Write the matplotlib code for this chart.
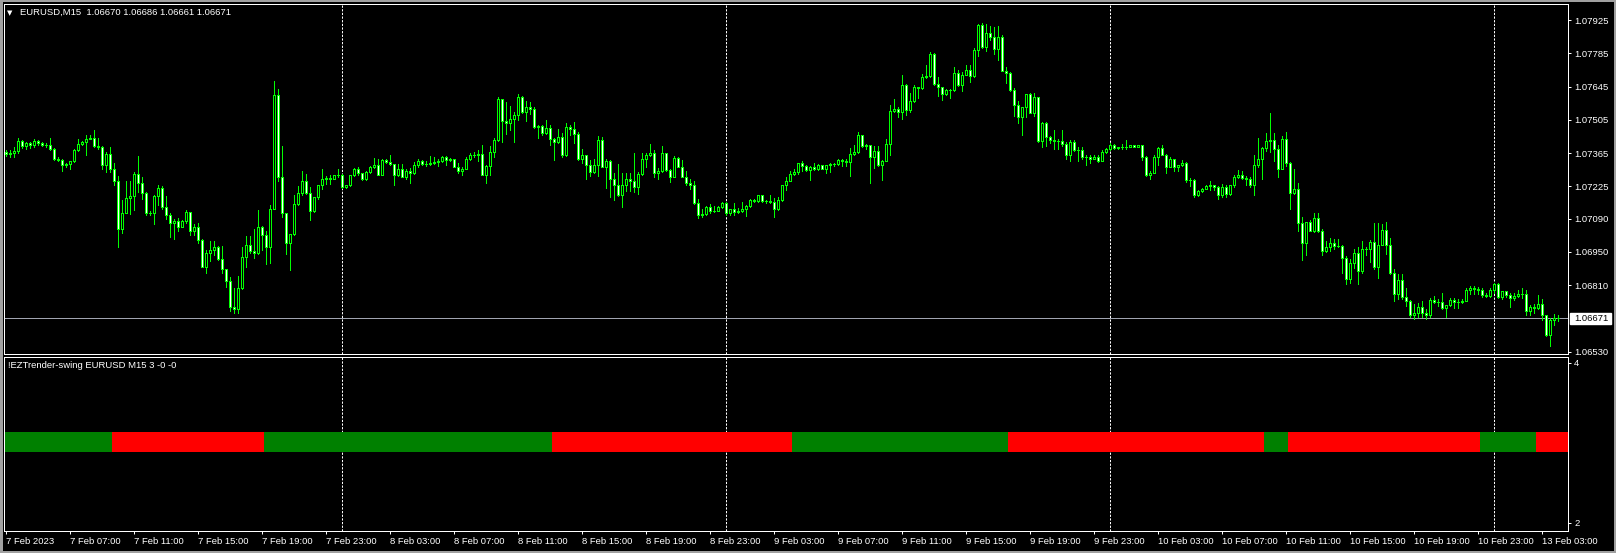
import matplotlib
matplotlib.use('Agg')
import matplotlib.pyplot as plt
from matplotlib.patches import Rectangle
from matplotlib.transforms import blended_transform_factory
import numpy as np
import pandas as pd

# EURUSD M15 prices, in points (1e-5) above 1.06000
first_open_pts = 1370
close_pts = [
    1362, 1366, 1372, 1415, 1395, 1406, 1398, 1415, 1406, 1401,
    1398, 1384, 1339, 1336, 1314, 1320, 1330, 1378, 1404, 1410,
    1424, 1429, 1395, 1390, 1314, 1362, 1300, 1247, 1048, 1112,
    1177, 1185, 1278, 1241, 1199, 1112, 1115, 1185, 1219, 1137,
    1106, 1073, 1081, 1056, 1078, 1118, 1039, 1056, 1000, 888,
    947, 958, 969, 919, 879, 826, 720, 711, 798, 927,
    978, 955, 944, 1053, 1020, 972, 1129, 1608, 1264, 1112,
    989, 1025, 1151, 1196, 1247, 1196, 1121, 1179, 1230, 1255,
    1261, 1258, 1272, 1275, 1221, 1230, 1272, 1297, 1280, 1255,
    1286, 1306, 1314, 1275, 1336, 1328, 1320, 1272, 1297, 1266,
    1292, 1283, 1314, 1331, 1320, 1320, 1322, 1328, 1331, 1348,
    1336, 1339, 1308, 1289, 1300, 1339, 1356, 1359, 1362, 1275,
    1311, 1370, 1421, 1592, 1499, 1491, 1510, 1524, 1600, 1538,
    1561, 1552, 1477, 1479, 1451, 1471, 1423, 1412, 1432, 1356,
    1477, 1465, 1446, 1339, 1356, 1314, 1286, 1317, 1421, 1308,
    1331, 1255, 1233, 1191, 1233, 1255, 1249, 1224, 1278, 1339,
    1356, 1364, 1280, 1289, 1364, 1294, 1266, 1345, 1308, 1266,
    1241, 1233, 1157, 1104, 1107, 1140, 1121, 1123, 1137, 1154,
    1112, 1129, 1118, 1121, 1129, 1143, 1168, 1163, 1188, 1163,
    1165, 1160, 1129, 1168, 1230, 1249, 1278, 1286, 1322, 1311,
    1294, 1305, 1297, 1314, 1300, 1314, 1319, 1319, 1336, 1330,
    1328, 1361, 1370, 1440, 1395, 1401, 1350, 1373, 1314, 1333,
    1403, 1541, 1552, 1538, 1650, 1546, 1583, 1642, 1639, 1684,
    1689, 1782, 1656, 1642, 1614, 1631, 1631, 1701, 1650, 1695,
    1715, 1689, 1799, 1903, 1810, 1872, 1852, 1804, 1855, 1712,
    1703, 1631, 1569, 1516, 1558, 1614, 1535, 1600, 1417, 1493,
    1431, 1420, 1417, 1415, 1403, 1359, 1412, 1378, 1378, 1347,
    1347, 1342, 1350, 1333, 1370, 1381, 1401, 1387, 1389, 1392,
    1392, 1398, 1392, 1398, 1350, 1274, 1283, 1350, 1387, 1359,
    1308, 1339, 1305, 1314, 1323, 1252, 1250, 1188, 1205, 1216,
    1227, 1230, 1224, 1188, 1222, 1194, 1230, 1264, 1275, 1261,
    1258, 1230, 1314, 1339, 1387, 1415, 1421, 1384, 1300, 1424,
    1323, 1199, 1213, 1070, 986, 1076, 1039, 1093, 1037, 952,
    969, 986, 975, 975, 924, 835, 902, 947, 871, 961,
    964, 992, 885, 980, 1042, 978, 860, 773, 832, 759,
    742, 686, 692, 717, 692, 683, 748, 739, 737, 714,
    725, 748, 739, 739, 745, 790, 798, 793, 790, 770,
    765, 790, 815, 759, 784, 770, 756, 765, 773, 773,
    700, 720, 714, 731, 683, 599, 664, 670, 671,
]
# wick length above / below the body, points
up_wick = [
    8, 11, 20, 14, 6, 4, 8, 8, 6, 6,
    6, 31, 4, 8, 4, 4, 4, 6, 20, 6,
    17, 11, 34, 34, 3, 8, 28, 25, 20, 56,
    70, 62, 8, 76, 22, 4, 8, 6, 11, 6,
    48, 6, 6, 11, 6, 8, 0, 11, 14, 3,
    11, 39, 25, 6, 56, 0, 17, 76, 50, 42,
    39, 39, 90, 73, 6, 17, 20, 59, 25, 132,
    3, 0, 39, 31, 42, 31, 28, 3, 3, 45,
    6, 11, 0, 25, 3, 3, 3, 6, 8, 3,
    3, 6, 31, 28, 3, 3, 31, 0, 22, 22,
    6, 11, 14, 8, 6, 14, 31, 22, 11, 6,
    3, 6, 3, 17, 8, 11, 11, 11, 17, 36,
    6, 25, 6, 8, 0, 81, 53, 14, 14, 6,
    22, 20, 8, 3, 3, 34, 11, 6, 36, 17,
    14, 8, 31, 6, 25, 3, 22, 22, 17, 11,
    11, 6, 25, 87, 48, 28, 28, 115, 8, 25,
    11, 39, 14, 14, 31, 3, 6, 6, 3, 28,
    25, 17, 14, 14, 25, 3, 11, 20, 6, 6,
    6, 3, 25, 14, 31, 6, 3, 3, 3, 3,
    3, 22, 17, 11, 3, 14, 11, 14, 3, 11,
    6, 8, 20, 6, 3, 3, 3, 6, 6, 3,
    11, 25, 31, 14, 0, 3, 0, 22, 22, 3,
    20, 25, 39, 8, 42, 6, 34, 8, 3, 14,
    48, 8, 3, 31, 3, 3, 3, 28, 14, 11,
    22, 20, 8, 6, 11, 36, 28, 45, 45, 8,
    14, 3, 8, 17, 3, 0, 6, 17, 3, 3,
    3, 6, 42, 6, 48, 11, 8, 8, 11, 11,
    11, 11, 8, 8, 8, 6, 8, 3, 3, 11,
    28, 3, 3, 3, 3, 3, 8, 6, 3, 11,
    3, 11, 3, 3, 14, 3, 8, 8, 3, 3,
    3, 17, 3, 3, 14, 11, 3, 8, 20, 17,
    8, 8, 42, 90, 3, 34, 112, 28, 14, 14,
    31, 3, 84, 25, 25, 0, 6, 20, 20, 8,
    25, 22, 17, 31, 3, 8, 17, 14, 25, 34,
    6, 8, 78, 90, 25, 34, 31, 17, 25, 25,
    39, 6, 39, 17, 28, 17, 8, 17, 14, 39,
    3, 8, 6, 14, 6, 8, 8, 8, 8, 6,
    6, 6, 3, 3, 3, 3, 8, 11, 17, 25,
    17, 6, 11, 36, 20, 3, 6, 20, 15,
]
dn_wick = [
    8, 14, 17, 6, 8, 14, 11, 6, 8, 6,
    6, 6, 4, 6, 25, 8, 22, 4, 4, 6,
    53, 0, 3, 6, 14, 28, 14, 14, 76, 17,
    0, 67, 59, 39, 25, 6, 6, 48, 36, 6,
    20, 59, 70, 17, 3, 8, 20, 20, 11, 3,
    28, 36, 20, 3, 20, 25, 17, 17, 17, 3,
    42, 8, 22, 3, 64, 73, 70, 0, 17, 14,
    50, 115, 3, 3, 8, 3, 36, 3, 6, 14,
    20, 22, 3, 6, 3, 3, 3, 3, 6, 3,
    3, 6, 3, 3, 3, 3, 6, 39, 3, 3,
    8, 45, 6, 6, 3, 11, 3, 3, 17, 3,
    22, 6, 3, 6, 14, 3, 3, 6, 25, 3,
    34, 36, 22, 6, 87, 45, 28, 98, 20, 6,
    36, 22, 8, 48, 11, 6, 22, 76, 6, 6,
    3, 25, 39, 3, 17, 56, 17, 3, 50, 3,
    90, 73, 64, 8, 53, 28, 42, 22, 31, 3,
    34, 3, 14, 22, 3, 6, 22, 3, 3, 3,
    11, 20, 6, 11, 6, 3, 8, 3, 3, 3,
    8, 6, 14, 6, 3, 28, 3, 3, 3, 3,
    6, 6, 31, 3, 6, 22, 3, 3, 8, 20,
    3, 42, 3, 3, 3, 20, 28, 6, 3, 20,
    17, 59, 3, 3, 3, 14, 109, 48, 3, 62,
    3, 45, 3, 20, 28, 22, 8, 3, 42, 3,
    3, 3, 6, 36, 25, 3, 34, 3, 3, 22,
    3, 25, 3, 25, 3, 17, 11, 22, 48, 3,
    45, 3, 48, 25, 73, 42, 3, 14, 3, 25,
    36, 14, 34, 31, 8, 20, 28, 6, 48, 6,
    31, 20, 3, 6, 3, 3, 3, 3, 3, 8,
    8, 3, 3, 3, 14, 6, 17, 3, 34, 3,
    25, 3, 17, 17, 3, 8, 22, 8, 3, 3,
    3, 17, 14, 14, 6, 14, 3, 6, 3, 3,
    28, 6, 42, 8, 81, 14, 45, 53, 34, 3,
    14, 67, 6, 31, 70, 48, 3, 6, 3, 14,
    3, 14, 14, 3, 64, 22, 14, 20, 56, 8,
    25, 56, 6, 45, 3, 36, 3, 28, 20, 6,
    20, 8, 20, 14, 14, 17, 6, 3, 14, 3,
    36, 3, 25, 25, 6, 3, 17, 20, 17, 11,
    6, 6, 14, 3, 6, 11, 39, 8, 3, 17,
    17, 17, 20, 3, 20, 3, 45, 20, 9,
]

# trend indicator: bar index where each run starts, 1 = green, 0 = red
trend_start = [0, 27, 65, 137, 197, 251, 315, 321, 369, 383]
trend_state = [1, 0, 1, 0, 1, 0, 1, 0, 1, 0]

price_ticks = [1.07925, 1.07785, 1.07645, 1.07505, 1.07365,
               1.07225, 1.07090, 1.06950, 1.06810, 1.06530]
ind_ticks = [2, 4]

W, H = 1616, 553
LIME = '#00ff00'
FONT = 6.8


def fx(px):
    return px / W


def fy(py):
    return 1 - py / H


def main():
    plt.rcParams['font.family'] = ['Liberation Sans', 'DejaVu Sans']

    n = len(close_pts)
    close = 1.06 + np.array(close_pts) / 1e5
    opens = np.concatenate([[1.06 + first_open_pts / 1e5], close[:-1]])
    high = np.maximum(opens, close) + np.array(up_wick) / 1e5
    low = np.minimum(opens, close) - np.array(dn_wick) / 1e5
    x = np.arange(n)

    times = list(pd.date_range('2023-02-07 03:00', '2023-02-10 23:45', freq='15min')) + \
        list(pd.date_range('2023-02-13 00:00', periods=n - 372, freq='15min'))
    day_breaks = [i for i in range(1, n) if times[i].date() != times[i - 1].date()]

    fig = plt.figure(figsize=(W / 100, H / 100), dpi=100, facecolor='black')
    ax = fig.add_axes([fx(4), fy(354), fx(1568) - fx(4), fy(4) - fy(354)])
    ax2 = fig.add_axes([fx(4), fy(531), fx(1568) - fx(4), fy(357) - fy(531)])

    xlim = ((4 - 5.5) / 4, (1568 - 5.5) / 4)
    for a in (ax, ax2):
        a.set_facecolor('black')
        a.set_xlim(*xlim)
        for s in a.spines.values():
            s.set_color('white')
            s.set_linewidth(0.72)
        for b in day_breaks:
            a.axvline(b, color='white', lw=0.72, ls=(0, (2.2, 1.45)), zorder=1)

    # candles
    ax.axhline(close[-1], color='#a0a4b0', lw=0.72, zorder=2)
    ax.vlines(x, low, high, color=LIME, lw=0.72, zorder=3, antialiased=False)
    fills = ['black' if c >= o else 'white' for o, c in zip(opens, close)]
    ax.bar(x, close - opens, bottom=opens, width=0.5, color=fills,
           edgecolor=LIME, linewidth=0.72, zorder=4, antialiased=False)
    ax.set_ylim(1.065203, 1.079923)
    ax.set_xticks([])
    ax.yaxis.tick_right()
    ax.set_yticks(price_ticks)
    ax.set_yticklabels([f'{v:.5f}' for v in price_ticks])
    ax.tick_params(axis='y', colors='white', labelsize=FONT, length=2.2,
                   width=0.72, pad=2.2)

    # last price marker
    tr = blended_transform_factory(fig.transFigure, ax.transData)
    ax.add_patch(Rectangle((fx(1570), close[-1] - 0.000232), fx(1611) - fx(1570),
                           0.000464, transform=tr, facecolor='white',
                           edgecolor='white', clip_on=False, zorder=5))
    ax.text(fx(1574), close[-1], f'{close[-1]:.5f}', transform=tr, color='black',
            fontsize=FONT, va='center', ha='left', zorder=6)

    # trend indicator
    ends = trend_start[1:] + [xlim[1] + 0.5]
    for s, e, st in zip(trend_start, ends, trend_state):
        ax2.broken_barh([(s - 0.5, e - s)], (2.8875, 0.25),
                        facecolors='#008000' if st else '#ff0000', zorder=2)
    ax2.set_ylim(1.9, 4.075)
    ax2.yaxis.tick_right()
    ax2.set_yticks(ind_ticks)
    ax2.set_yticklabels([str(v) for v in ind_ticks])
    ax2.tick_params(axis='y', colors='white', labelsize=FONT, length=2.2,
                    width=0.72, pad=2.2)

    tick_idx = list(range(0, n, 16))
    labels = []
    for i in tick_idx:
        t = times[i]
        if i == 0:
            labels.append(f'{t.day} {t:%b %Y}')
        else:
            labels.append(f'{t.day} {t:%b %H:%M}')
    ax2.set_xticks(tick_idx)
    ax2.set_xticklabels(labels)
    ax2.tick_params(axis='x', colors='white', labelsize=FONT, length=2.2,
                    width=0.72, pad=2.2)
    for lbl in ax2.get_xticklabels():
        lbl.set_horizontalalignment('left')

    # captions
    o, h, l, c = opens[-1], high[-1], low[-1], close[-1]
    fig.text(fx(7), fy(12.7), '\u25bc', color='white', fontsize=5,
             family='DejaVu Sans', va='center', ha='left')
    fig.text(fx(20), fy(12.7), f'EURUSD,M15  {o:.5f} {h:.5f} {l:.5f} {c:.5f}',
             color='white', fontsize=FONT, va='center', ha='left')
    fig.text(fx(8), fy(366), '!EZTrender-swing EURUSD M15 3 -0 -0',
             color='white', fontsize=FONT, va='center', ha='left')

    # window frame
    for (x0, y0, w, h_) in [(0, 0, 2.5, H), (0, 0, W, 1.5), (0, H - 2, W, 2),
                            (W - 2, 0, 2, H)]:
        fig.patches.append(Rectangle((fx(x0), fy(y0 + h_)), w / W, h_ / H,
                                     transform=fig.transFigure,
                                     facecolor='#a0a0a0', edgecolor='none'))

    fig.savefig('out.png', dpi=100, facecolor='black')


if __name__ == '__main__':
    main()
